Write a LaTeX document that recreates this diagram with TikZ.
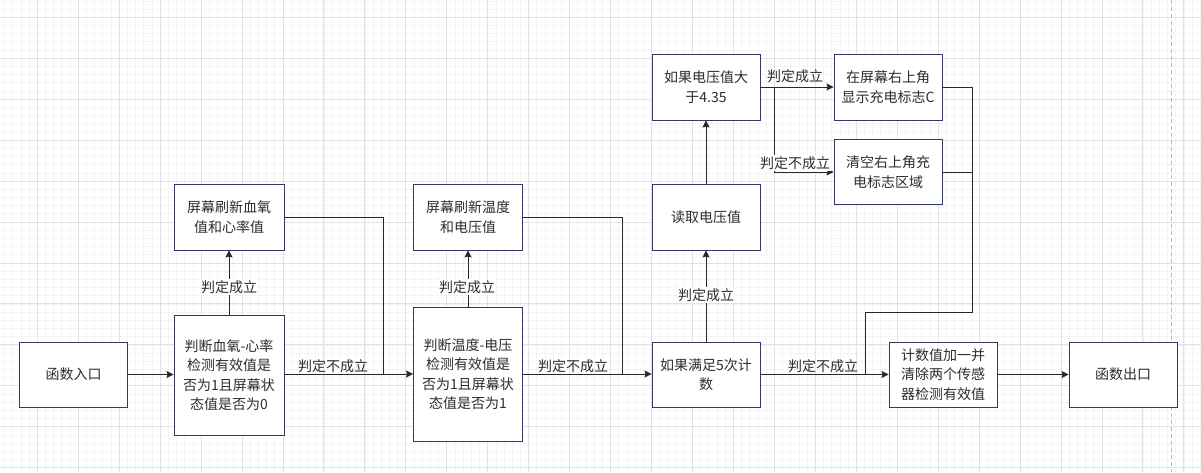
\documentclass[tikz,border=0pt]{standalone}
\usepackage{fontspec}
\setmainfont{Noto Sans CJK SC}
\usetikzlibrary{arrows.meta}
\definecolor{boxcol}{RGB}{52,56,100}
\definecolor{txtcol}{RGB}{45,45,45}
\definecolor{linecol}{RGB}{40,40,40}
\definecolor{minorg}{RGB}{244,244,244}
\definecolor{majorg}{RGB}{226,226,226}
\tikzset{
  flowbox/.style={draw=boxcol, fill=white, line width=0.9pt, rectangle, align=center,
    text=txtcol, inner sep=0pt, font=\fontsize{14}{19.5}\selectfont},
  conn/.style={draw=linecol, line width=0.9pt},
  arr/.style={conn, -{Stealth[length=7pt,width=7pt,inset=1pt]}},
  lbl/.style={text=txtcol, font=\fontsize{14}{16}\selectfont, inner sep=1pt},
  lblbg/.style={lbl, fill=white},
  minorline/.style={draw=minorg, line width=0.8pt},
  majorline/.style={draw=majorg, line width=1pt},
}
\begin{document}
\begin{tikzpicture}[x=1pt,y=-1pt]
\useasboundingbox (0,0) rectangle (1201,472);
\fill[white] (0,0) rectangle (1201,472);
% grid
\foreach \i in {-4,...,142} {
  \pgfmathsetmacro\xx{37.3+8.19*\i}
  \draw[minorline] (\xx,0) -- (\xx,472);
}
\foreach \i in {-2,...,56} {
  \pgfmathsetmacro\yy{17.3+8.19*\i}
  \draw[minorline] (0,\yy) -- (1201,\yy);
}
\foreach \i in {0,...,28} {
  \pgfmathsetmacro\xx{37.3+40.95*\i}
  \draw[majorline] (\xx,0) -- (\xx,472);
}
\foreach \i in {0,...,11} {
  \pgfmathsetmacro\yy{17.3+40.95*\i}
  \draw[majorline] (0,\yy) -- (1201,\yy);
}
\draw[draw=gray!55, line width=0.9pt, dash pattern=on 4pt off 3pt] (1171,0) -- (1171,472);

% nodes
\node[flowbox, minimum width=108pt, minimum height=65pt] (entry) at (73.5,374.5) {函数入口};
\node[flowbox, minimum width=110pt, minimum height=120pt] (j1) at (229,375) {判断血氧-心率\\检测有效值是\\否为1且屏幕状\\态值是否为0};
\node[flowbox, minimum width=110pt, minimum height=66pt] (r1) at (229,217) {屏幕刷新血氧\\值和心率值};
\node[flowbox, minimum width=109pt, minimum height=134pt] (j2) at (468,374) {判断温度-电压\\检测有效值是\\否为1且屏幕状\\态值是否为1};
\node[flowbox, minimum width=109pt, minimum height=66pt] (r2) at (468,217) {屏幕刷新温度\\和电压值};
\node[flowbox, minimum width=108pt, minimum height=65pt] (c5) at (706,374.5) {如果满足5次计\\数};
\node[flowbox, minimum width=108pt, minimum height=66pt] (rv) at (706,217) {读取电压值};
\node[flowbox, minimum width=108pt, minimum height=66pt] (v435) at (706,87) {如果电压值大\\于4.35};
\node[flowbox, minimum width=108pt, minimum height=66pt] (chg) at (888,87) {在屏幕右上角\\显示充电标志C};
\node[flowbox, minimum width=108pt, minimum height=65pt] (clr) at (888,172) {清空右上角充\\电标志区域};
\node[flowbox, minimum width=108pt, minimum height=65pt] (inc) at (943,374.5) {计数值加一并\\清除两个传感\\器检测有效值};
\node[flowbox, minimum width=108pt, minimum height=65pt] (exit) at (1123,374.5) {函数出口};

% labels above horizontal lines
\node[lbl] (l1) at (333,366) {判定不成立};
\node[lbl] (l2) at (573,366) {判定不成立};
\node[lbl] (l3) at (823,366) {判定不成立};
\node[lbl] (l4) at (795,76) {判定成立};

% junction coordinates
\coordinate (m1) at (383,217);
\coordinate (m2) at (622,217);
\coordinate (b1) at (774,87);
\coordinate (b2) at (972,87);
\coordinate (b3) at (972,312);
\coordinate (b4) at (865,312);

% connectors
\draw[arr] (entry.east) -- (entry.east -| j1.west);
\draw[arr] (j1.north) -- (r1.south);
\draw[arr] (j1.east |- j2.west) -- (j2.west);
\draw[conn] (r1.east |- m1) -- (m1) -- (m1 |- j2.west);
\draw[arr] (j2.north) -- (r2.south);
\draw[arr] (j2.east) -- (c5.west |- j2.east);
\draw[conn] (r2.east |- m2) -- (m2) -- (m2 |- j2.east);
\draw[arr] (c5.north) -- (rv.south);
\draw[arr] (rv.north) -- (v435.south);
\draw[arr] (v435.east) -- (chg.west);
\draw[arr] (b1) |- (clr.west);
\draw[conn] (chg.east) -- (b2) -- (b3) -- (b4) -- (b4 |- inc.west);
\draw[conn] (clr.east) -- (clr.east -| b2);
\draw[arr] (c5.east) -- (inc.west);
\draw[arr] (inc.east) -- (exit.west);

% labels on vertical lines
\node[lblbg] (l5) at (229,287) {判定成立};
\node[lblbg] (l6) at (467,287) {判定成立};
\node[lblbg] (l7) at (706,295) {判定成立};
\node[lblbg] (l8) at (795,163) {判定不成立};
\end{tikzpicture}
\end{document}
